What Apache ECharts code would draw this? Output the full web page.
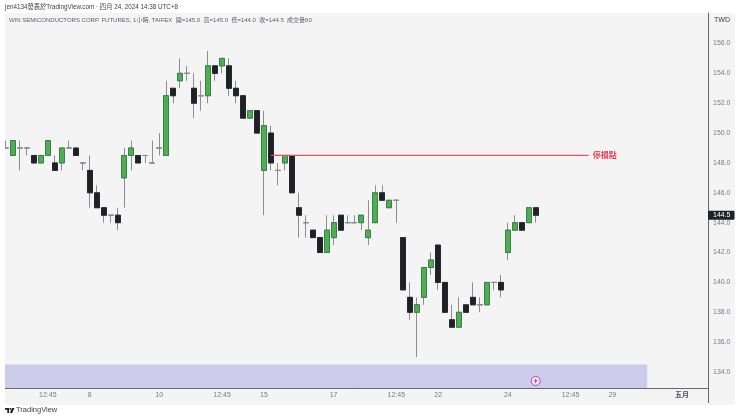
<!DOCTYPE html>
<html>
<head>
<meta charset="utf-8">
<style>html,body{margin:0;padding:0;background:#fff}#chart{width:740px;height:419px}</style>
<script src="https://cdn.jsdelivr.net/npm/echarts@6/dist/echarts.min.js"></script>
</head>
<body>
<div id="chart"></div>
<script>
var FONT = '"Liberation Sans", "Noto Sans CJK TC", sans-serif';

// 每根K線 (open / close / low / high)
var opens  = [149,148.5,149,149,148.5,148,148.5,148,148,149,149,148,147.5,146,145,144.5,144.5,147,148.5,148.5,148.5,148,149,148.5,153,153.5,154,153,152.5,152.5,154.5,154.5,154.5,153,152.5,151,151.5,147.5,150,147.5,148,148.5,145,144,143.5,143,142,143,144.5,144,144,144,143,144,146,145,145.5,143,139,138,139,141,142.5,140,137.5,137,138.5,139,138.5,138.5,140,140,142,143.5,144,144,145];
var closes = [149,149.5,149,149,148,148.5,149.5,147.5,149,149,148.5,148,146,145,144.5,144.5,144,148.5,149,148,148.5,148,149,152.5,152.5,154,154,152,152.5,154.5,154,155,153,152.5,151,151.5,150,150.5,148,147.5,148.5,146,144.5,144,143,142,143.5,144,143.5,144,144,144.5,143.5,146,145.5,145.5,145.5,139.5,138,138.5,141,141.5,140,138,137,138,138,138.5,138.5,140,140,139.5,143.5,144,143.5,145,144.5];
var lows   = [149,148.5,147.5,148.5,148,148,148.5,147.5,147.5,149,148.5,147.5,145,145,144,144,143.5,145,147.5,148,148,148,148.5,148.5,152,153,153.5,151,151.5,152,153.5,154,152.5,152,151,151,150,144.5,147.5,146.5,147.5,146,143,143,143,142,142,142.5,143.5,144,144,143.5,142.5,144,145.5,145,144,139.5,137.5,135,138.5,140.5,139.5,138,137,137,138,138.5,138,138.5,139.5,139,141.5,143.5,143.5,144,144];
var highs  = [149.5,149.5,149.5,149,148.5,148.5,149.5,148.5,149,149.5,149,148,148.5,146.5,145,144.5,145,149,149.5,148.5,148.5,149.5,150,153.5,153,155,154.5,154,153.5,155.5,154.5,155,155,153.5,152.5,151.5,151.5,151.5,150.5,148,148.5,148.5,146,144.5,143.5,143,144.5,144.5,144.5,144.5,144.5,144.5,145.5,146.5,146.5,145.5,145.5,143,140,139,141,142,142.5,140,138.5,139,138.5,140,139,140,140,140.5,144,144.5,144,145,145];

// 座標軸標籤
var timeTickIndex  = [6,12,22,31,37,47,56,62,72,81,87,97];
var timeTickLabels = ['12:45','8','10','12:45','15','17','12:45','22','24','12:45','29','五月'];
var priceTicks = [134,136,138,140,142,144,146,148,150,152,154,156];

var stopPrice = 148.5;
var stopFrom = 38, stopTo = 83.6;
var lastPrice = 144.5;
var xMin = -0.143, xMax = 100.72;
var sessionEnd = 92, sessionTop = 134.5;
var flashPoint = [76, 133.4];

var candleData = [], bodyData = [];
for (var i = 0; i < opens.length; i++) {
    candleData.push([i, opens[i], closes[i], lows[i], highs[i]]);
    // 第二層只畫實體，影線維持灰色
    bodyData.push([i, opens[i], closes[i], Math.min(opens[i], closes[i]), Math.max(opens[i], closes[i])]);
}

var chart = echarts.init(document.getElementById('chart'));
chart.setOption({
    animation: false,
    textStyle: { fontFamily: FONT },
    grid: { left: 5, right: 32, top: 13, bottom: 31 },
    xAxis: {
        type: 'value',
        min: xMin,
        max: xMax,
        splitLine: { show: false },
        axisTick: { show: false },
        axisLine: { show: true, onZero: false, lineStyle: { color: '#66686e', width: 1 } },
        axisLabel: {
            customValues: timeTickIndex,
            margin: 4,
            fontSize: 7,
            fontFamily: FONT,
            color: '#787b86',
            formatter: function (v) {
                var s = timeTickLabels[timeTickIndex.indexOf(v)];
                return s === '五月' ? '{m|' + s + '}' : s;
            },
            rich: { m: { fontSize: 7, fontWeight: 'bold', color: '#4a4c52', fontFamily: FONT } }
        }
    },
    yAxis: {
        type: 'value',
        position: 'right',
        min: 132.93,
        max: 158.04,
        splitLine: { show: false },
        axisTick: { show: false },
        axisLine: { show: true, onZero: false, lineStyle: { color: '#66686e', width: 1 } },
        axisLabel: {
            customValues: priceTicks,
            margin: 5,
            fontSize: 7,
            fontFamily: FONT,
            color: '#787b86',
            formatter: function (v) { return v.toFixed(1); }
        }
    },
    series: [
        {
            type: 'candlestick',
            barWidth: 5.5,
            data: candleData,
            itemStyle: {
                color: '#4caf50', color0: '#1f2127',
                borderColor: '#8b8d90', borderColor0: '#8b8d90', borderColorDoji: '#8b8d90', borderWidth: 1
            },
            markArea: {
                silent: true,
                itemStyle: { color: '#cdcbea', borderWidth: 0 },
                data: [[{ xAxis: xMin, yAxis: sessionTop }, { xAxis: sessionEnd, yAxis: 132.93 }]]
            },
            markPoint: {
                silent: true,
                symbol: 'rect',
                symbolSize: 0,
                data: [{
                    coord: [xMax, lastPrice],
                    label: {
                        show: true, position: 'right', distance: 0, formatter: lastPrice.toFixed(1),
                        color: '#fff', backgroundColor: '#1f2127', fontSize: 7, fontFamily: FONT,
                        padding: [1, 4, 1, 5], borderRadius: 1
                    }
                }]
            }
        },
        {
            type: 'candlestick',
            barWidth: 5.5,
            data: bodyData,
            itemStyle: {
                color: '#4caf50', color0: '#1f2127',
                borderColor: '#3f7d4b', borderColor0: '#26282e', borderColorDoji: '#8b8d90', borderWidth: 1
            }
        },
        {
            // 停損點
            type: 'line',
            data: [[stopFrom, stopPrice], [stopTo, stopPrice]],
            showSymbol: false,
            lineStyle: { color: '#e8505f', width: 1.2 },
            endLabel: {
                show: true, formatter: '停損點', distance: 4,
                color: '#ec3a50', fontSize: 8, fontWeight: 'bold', fontFamily: FONT
            },
            z: 4
        },
        {
            type: 'scatter',
            data: [flashPoint],
            symbol: 'circle',
            symbolSize: 9,
            itemStyle: { color: '#fbf4fc', borderColor: '#9c27b0', borderWidth: 1 },
            z: 5
        },
        {
            type: 'scatter',
            data: [flashPoint],
            symbol: 'path://M6 0L1 7h3L3 12l6-8H6z',
            symbolSize: [4, 6],
            itemStyle: { color: '#b5179e' },
            z: 6
        }
    ],
    graphic: [
        { type: 'rect', z: -10, silent: true, shape: { x: 5, y: 13, width: 730, height: 392, r: 3 }, style: { fill: '#f4f4f5' } },
        { type: 'rect', z: 10, silent: true, shape: { x: 0, y: 13, width: 5, height: 392 }, style: { fill: '#fff' } },
        { type: 'line', z: 3, silent: true, shape: { x1: 708.5, y1: 388, x2: 708.5, y2: 403 }, style: { stroke: '#66686e', lineWidth: 1 } },
        { type: 'text', left: 5, top: 4, style: { text: 'jen4134發表於TradingView.com · 四月 24, 2024 14:38 UTC+8', font: '6.3px ' + FONT, fill: '#3c3e44' } },
        { type: 'text', left: 9, top: 17, style: { text: 'WIN SEMICONDUCTORS CORP. FUTURES, 1小時, TAIFEX  開=145.0  高=145.0  低=144.0  收=144.5  成交量60', font: '6px ' + FONT, fill: '#5c5f68' } },
        { type: 'text', left: 714, top: 17, style: { text: 'TWD', font: '7px ' + FONT, fill: '#3c3e44' } },
        // TradingView logo
        { type: 'polygon', silent: true, shape: { points: [[5, 408], [9, 408], [9, 413], [7.3, 413], [7.3, 409.7], [5, 409.7]] }, style: { fill: '#1e2024' } },
        { type: 'circle', silent: true, shape: { cx: 10.3, cy: 408.9, r: 0.9 }, style: { fill: '#1e2024' } },
        { type: 'polygon', silent: true, shape: { points: [[12, 408], [14.4, 408], [12.2, 413], [9.9, 413]] }, style: { fill: '#1e2024' } },
        { type: 'text', left: 16, top: 406, style: { text: 'TradingView', font: '7.5px ' + FONT, fill: '#3c3e44' } }
    ]
});
</script>
</body>
</html>
